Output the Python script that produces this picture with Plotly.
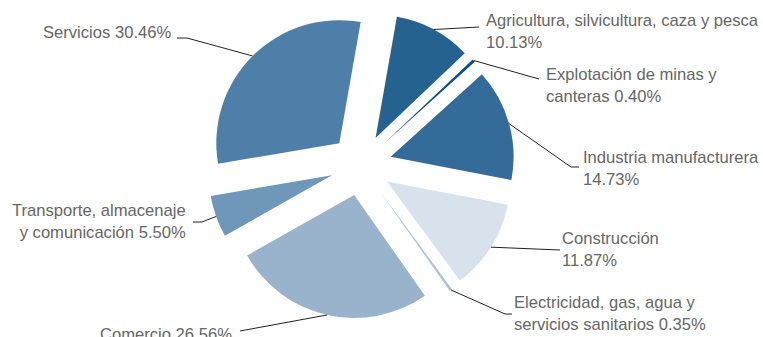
import math
import plotly.graph_objects as go

sectores = ["Agricultura, silvicultura, caza y pesca", "Explotación de minas y<br>canteras",
            "Industria manufacturera", "Construcción", "Electricidad, gas, agua y<br>servicios sanitarios",
            "Comercio", "Transporte, almacenaje<br>y comunicación", "Servicios"]
porcentajes = [10.13, 0.40, 14.73, 11.87, 0.35, 26.56, 5.50, 30.46]
colores = ["#26628f", "#0b4c86", "#346b98", "#d8e2ec", "#a9c3d9", "#98b3cb", "#6f97b9", "#4d7fa8"]
# label text: sector + "<br>" or " " before the percentage
separador = ["<br>", " ", "<br>", "<br>", " ", " ", " ", " "]

W, H = 763, 337
CX, CY, R = 361, 165, 123    # pie centre / radius in px
PULL = 0.25
ROT = 10

# label layout (px): side, text x, text y (block centre), elbow point
lado = ["left", "left", "left", "left", "left", "right", "right", "right"]
txt_x = [484, 544, 581, 560, 512, 234, 188, 173]
txt_y = [32, 86, 168, 249, 313, 334, 221, 33]
codo = [(479, 27), (539, 79), (571, 167), (560, 250), (505, 314), (240, 331), (202, 222), (187, 38)]
fin_x = [479, 539, 579, 560, 512, 240, 193, 177]


def px(x):
    return x / W


def py(y):
    return 1 - y / H


fig = go.Figure()
fig.add_trace(go.Pie(labels=[s.replace("<br>", " ") for s in sectores], values=porcentajes,
                     marker=dict(colors=colores, line=dict(width=0)),
                     sort=False, direction="clockwise", rotation=ROT, pull=PULL,
                     textinfo="none", hoverinfo="label+percent", showlegend=False,
                     domain=dict(x=[0, 2 * CX / W],
                                 y=[py(CY + R * (1 + PULL)), py(CY - R * (1 + PULL))])))

total = sum(porcentajes)
acum = 0
annotations = []
shapes = []
for i, v in enumerate(porcentajes):
    mid = math.radians(ROT + (acum + v / 2) / total * 360)
    acum += v
    d = R * PULL
    x0 = CX + (R + d) * math.sin(mid)
    y0 = CY - (R + d) * math.cos(mid)
    ex, ey = codo[i]
    path = "M {},{} L {},{} L {},{}".format(px(x0), py(y0), px(ex), py(ey), px(fin_x[i]), py(ey))
    shapes.append(dict(type="path", xref="paper", yref="paper", path=path,
                       line=dict(color="#222222", width=1)))
    annotations.append(dict(x=px(txt_x[i]), y=py(txt_y[i]), xref="paper", yref="paper",
                            text=sectores[i] + separador[i] + "{:.2f}%".format(v),
                            showarrow=False, xanchor=lado[i], yanchor="middle", align=lado[i],
                            font=dict(family="Liberation Sans, Arial, sans-serif", size=16.6, color="#666666")))

fig.update_layout(width=W, height=H, margin=dict(l=0, r=0, t=0, b=0),
                  paper_bgcolor="white", plot_bgcolor="white",
                  annotations=annotations, shapes=shapes)
# drop the browser's default body margin so the figure fills the window
fig.write_html("out.html", config={"displayModeBar": False},
               post_script="document.body.style.margin = '0';")
